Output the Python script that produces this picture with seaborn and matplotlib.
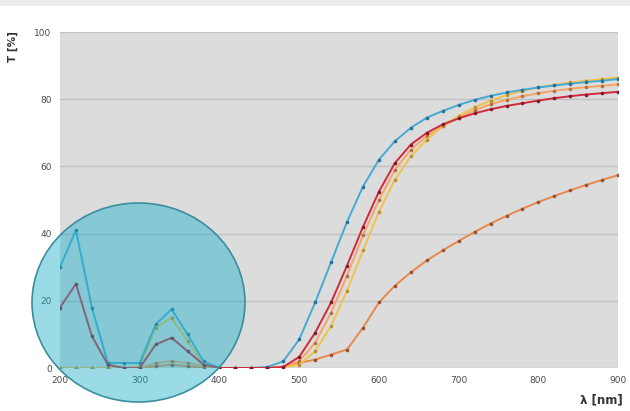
import numpy as np
import pandas as pd
import seaborn as sns
import matplotlib.pyplot as plt
from matplotlib.patches import Ellipse, Rectangle

# wavelength grid (nm) and transmission curves (%)
wavelength = [200, 220, 240, 260, 280, 300, 320, 340, 360, 380, 400, 420,
              440, 460, 480, 500, 520, 540, 560, 580, 600, 620, 640, 660,
              680, 700, 720, 740, 760, 780, 800, 820, 840, 860, 880, 900]

blue = [30, 41, 18, 1.5, 1.5, 1.5, 13, 17.5, 10, 2, 0, 0,
        0, 0.3, 2, 8.5, 19.5, 31.5, 43.5, 54, 62, 67.5, 71.5, 74.5,
        76.5, 78.3, 79.8, 81, 82, 82.8, 83.5, 84.1, 84.6, 85.1, 85.5, 86]
red = [18, 25, 9.5, 1, 0, 0, 7, 9, 5, 1, 0, 0,
       0, 0, 0.3, 3.3, 10.5, 19.5, 30.5, 42, 52.5, 61, 66.5, 70,
       72.5, 74.3, 75.8, 77, 78, 78.8, 79.6, 80.3, 80.9, 81.4, 81.8, 82.2]
yellow = [0, 0, 0, 0, 0, 0.5, 12, 15, 8, 1, 0, 0,
          0, 0, 0.2, 1, 5, 12.5, 23, 35, 46.5, 56, 63, 68,
          72, 75, 77.6, 79.6, 81.2, 82.5, 83.5, 84.3, 85, 85.5, 86, 86.4]
peach = [0, 0, 0, 0, 0, 0, 1.5, 2, 1.5, 0.5, 0, 0,
         0, 0, 0.2, 2, 7.5, 16.5, 27.5, 39.5, 50, 59, 65, 69,
         72, 74.5, 76.7, 78.5, 79.8, 80.9, 81.8, 82.5, 83.1, 83.6, 84, 84.4]
orange = [0, 0, 0, 0, 0, 0, 0.5, 1, 0.5, 0, 0, 0,
          0, 0, 0.3, 1.5, 2.5, 4, 5.5, 12, 19.5, 24.5, 28.5, 32,
          35, 37.8, 40.5, 43, 45.3, 47.4, 49.4, 51.2, 52.9, 54.5, 56, 57.4]

y_ticks = [0, 20, 40, 60, 80, 100]
x_ticks = [200, 300, 400, 500, 600, 700, 800, 900]

sns.set_style("white", {"axes.facecolor": "#dcdcdc"})
plt.rcParams['font.family'] = ['DejaVu Sans']

fig = plt.figure(figsize=(6.3, 4.11), dpi=100)
ax = fig.add_axes([0.0952, 0.1046, 0.886, 0.8175])

# (values, line colour, marker colour) in drawing order
series = [
    (orange, "#e8874e", "#9c5030"),
    (peach, "#f6a465", "#b8703a"),
    (yellow, "#f2c24a", "#b89030"),
    (blue, "#45aad2", "#2a7098"),
    (red, "#d0283c", "#861828"),
]
for vals, col, mcol in series:
    sns.lineplot(x=wavelength, y=vals, ax=ax, color=col, linewidth=1.4,
                 marker="o", markersize=2.6, markerfacecolor=mcol,
                 markeredgecolor=mcol, markeredgewidth=0, zorder=3)

ax.set_xlim(200, 900)
ax.set_ylim(0, 100)
ax.set_xticks(x_ticks)
ax.set_yticks(y_ticks)
ax.yaxis.grid(True, color="#c2c2c2", linewidth=1.0)
ax.set_axisbelow(True)
for s in ax.spines.values():
    s.set_visible(False)
ax.tick_params(length=0, labelsize=6.5, labelcolor="#4a4a4a", pad=6)
ax.set_xlabel("")
ax.set_ylabel("")

fig.text(13 / 630, 1 - 47 / 411, "T [%]", rotation=90, ha="center", va="center",
         fontsize=7.5, fontweight="bold", color="#333333")
fig.text(601 / 630, 1 - 400 / 411, "λ [nm]", ha="center", va="center",
         fontsize=8.5, fontweight="bold", color="#333333")

# light frame strip at the top of the image
fig.patches.append(Rectangle((0, 1 - 6 / 411), 1, 6 / 411, transform=fig.transFigure,
                             facecolor="#ebebeb", edgecolor="none", zorder=0))

# highlight circle over the UV region
fig.patches.append(Ellipse((138.5 / 630, 1 - 302.5 / 411), 213 / 630, 199 / 411,
                           transform=fig.transFigure, facecolor=(0.12, 0.69, 0.79, 0.45),
                           edgecolor="#3a8ea0", linewidth=1.2, zorder=5))

fig.savefig("out.png", dpi=100)
